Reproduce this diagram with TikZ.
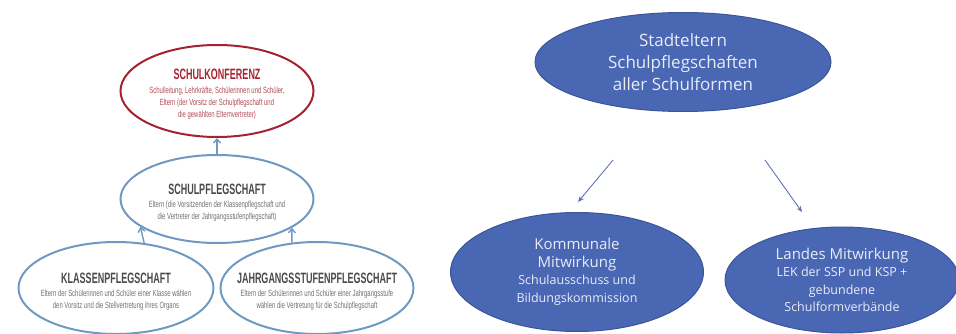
\documentclass[tikz,border=0pt]{standalone}
\usepackage{fontspec}
\setmainfont{Open Sans}
\newfontfamily\condfont[FakeStretch=0.66]{Liberation Sans}
\newfontfamily\condtitle[FakeStretch=0.6]{Liberation Sans}
\usetikzlibrary{shapes.geometric,arrows.meta}
\definecolor{konfred}{HTML}{A52330}
\definecolor{konfsub}{HTML}{B04A54}
\definecolor{pflegblue}{HTML}{6F99C2}
\definecolor{titlegray}{HTML}{4A4A4A}
\definecolor{subgray}{HTML}{707070}
\definecolor{stadtblue}{HTML}{4A67B4}
\definecolor{stadtedge}{HTML}{3A5598}
\definecolor{stadttext}{HTML}{E8ECF5}
\definecolor{arrowblue}{HTML}{5D72B5}
\newcommand{\gtitle}[1]{{\condtitle\fontsize{15}{15}\selectfont\bfseries\rule{0pt}{17pt}#1}}
\newcommand{\ebig}[1]{{\fontsize{15}{18}\selectfont #1}}
\begin{document}
\begin{tikzpicture}[x=1pt,y=-1pt,
  gremium/.style={draw=pflegblue, line width=2pt, ellipse, inner ysep=0pt, inner xsep=-18pt,
    align=center, font=\condfont\fontsize{9}{12}\selectfont, text=subgray},
  ebene/.style={draw=stadtedge, fill=stadtblue, line width=1pt, ellipse, inner sep=0pt,
    align=center, text=stadttext, font=\fontsize{12.5}{17.5}\selectfont},
  hoch/.style={draw=pflegblue, line width=1.4pt, -{Straight Barb[length=4pt,width=7pt]}},
  runter/.style={draw=arrowblue, line width=0.9pt, -{Stealth[length=6pt,width=5pt]}}]
\useasboundingbox (0,0) rectangle (956,334);

% Mitwirkung in der Schule
\node[gremium, draw=konfred, text=konfsub, minimum width=193pt, minimum height=92pt] (konf) at (217,91)
  {\textcolor{konfred}{\gtitle{SCHULKONFERENZ}}\\[2pt]
   Schulleitung, Lehrkräfte, Schülerinnen und Schüler,\\
   Eltern (der Vorsitz der Schulpflegschaft und\\
   die gewählten Elternvertreter)};
\node[gremium, minimum width=193pt, minimum height=88pt] (spf) at (217,199)
  {\textcolor{titlegray}{\gtitle{SCHULPFLEGSCHAFT}}\\[1pt]
   Eltern (die Vorsitzenden der Klassenpflegschaft und\\
   die Vertreter der Jahrgangsstufenpflegschaft)};
\node[gremium, minimum width=195pt, minimum height=92pt] (klasse) at (116,288)
  {\textcolor{titlegray}{\gtitle{KLASSENPFLEGSCHAFT}}\\[1pt]
   Eltern der Schülerinnen und Schüler einer Klasse wählen\\
   den Vorsitz und die Stellvertretung ihres Organs};
\node[gremium, minimum width=193pt, minimum height=92pt] (jahr) at (317,288)
  {\textcolor{titlegray}{\gtitle{JAHRGANGSSTUFENPFLEGSCHAFT}}\\[1pt]
   Eltern der Schülerinnen und Schüler einer Jahrgangsstufe\\
   wählen die Vertretung für die Schulpflegschaft};

\draw[hoch] (spf) -- (konf);
\draw[hoch] (klasse.58.6) -- (spf.200.7);
\draw[hoch] (jahr.119.4) -- (spf.339.7);

% Mitwirkung in der Stadt
\node[ebene, font=\fontsize{17}{22}\selectfont, minimum width=296pt, minimum height=99pt] (stadt) at (683,62)
  {Stadteltern\\ Schulpflegschaften\\ aller Schulformen};
\node[ebene, minimum width=253pt, minimum height=119pt] (komm) at (577,272)
  {\ebig{Kommunale}\\ \ebig{Mitwirkung}\\ Schulausschuss und\\ Bildungskommission};
\node[ebene, minimum width=234pt, minimum height=106pt] (landes) at (842,280)
  {\ebig{Landes Mitwirkung}\\ LEK der SSP und KSP +\\ gebundene\\ Schulformverbände};

\coordinate (lstart) at (613,160);
\coordinate (lend) at (578,202);
\coordinate (rstart) at (765,160);
\coordinate (rend) at (802,212);
\draw[runter] (lstart) -- (lend);
\draw[runter] (rstart) -- (rend);
\end{tikzpicture}
\end{document}
